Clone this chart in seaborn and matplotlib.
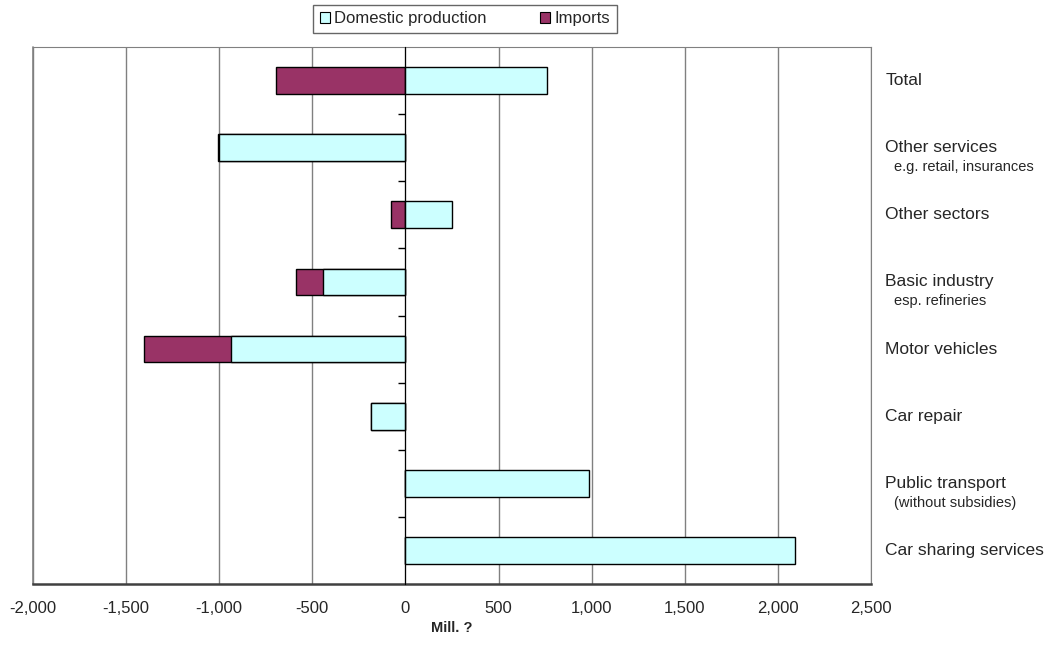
import pandas as pd
import matplotlib.pyplot as plt
import seaborn as sns
from matplotlib.patches import Patch
from matplotlib.ticker import FuncFormatter, FixedLocator

# Data (Mill.)
sectors = ['Total', 'Other services', 'Other sectors', 'Basic industry',
           'Motor vehicles', 'Car repair', 'Public transport', 'Car sharing services']
sublabels = ['', 'e.g. retail, insurances', '', 'esp. refineries',
             '', '', '(without subsidies)', '']
domestic = [760, -1000, 250, -440, -935, -185, 985, 2090]
imports = [-695, -8, -75, -150, -470, 0, 0, 0]

# imports stack on the far side of negative domestic bars
imports_end = [m + (d if d < 0 else 0) for d, m in zip(domestic, imports)]
df = pd.DataFrame({'sector': sectors, 'domestic': domestic, 'imports_end': imports_end})

sns.set_style('white')
plt.rcParams['font.family'] = ['Liberation Sans', 'DejaVu Sans']

fig = plt.figure(figsize=(10.51, 6.46), dpi=100)
ax = fig.add_axes([0.0314, 0.096, 0.7973, 0.8312])

dom_color = '#CCFFFF'
imp_color = '#993366'

sns.barplot(data=df, y='sector', x='imports_end', order=sectors, orient='h',
            color=imp_color, saturation=1, width=0.4, edgecolor='black',
            linewidth=1, ax=ax, zorder=3)
sns.barplot(data=df, y='sector', x='domestic', order=sectors, orient='h',
            color=dom_color, saturation=1, width=0.4, edgecolor='black',
            linewidth=1, ax=ax, zorder=4)

ax.set_xlim(-2000, 2500)
ax.set_ylim(len(sectors) - 0.5, -0.5)
ax.set_xticks(range(-2000, 2501, 500))
ax.xaxis.set_major_formatter(FuncFormatter(lambda v, p: f'{int(v):,}'))
ax.tick_params(axis='x', labelsize=12, length=4, color='#404040', pad=8, direction='out')
ax.grid(axis='x', color='#808080', lw=1, zorder=0)
ax.set_axisbelow(True)

# category axis crosses at zero, ticks between categories
ax.spines['left'].set_position(('data', 0))
ax.spines['left'].set_color('black')
ax.spines['left'].set_zorder(5)
ax.yaxis.set_major_locator(FixedLocator([i - 0.5 for i in range(1, len(sectors))]))
ax.set_yticklabels([])
ax.tick_params(axis='y', length=5, width=1, color='black', direction='out', left=True)
ax.set_ylabel('')

for s in ['top', 'right']:
    ax.spines[s].set_color('#808080')
    ax.spines[s].set_visible(True)
ax.spines['bottom'].set_color('#404040')
ax.spines['bottom'].set_linewidth(1.8)
ax.plot([0, 0], [0, 1], transform=ax.transAxes, color='#808080', lw=1.2, clip_on=False)

ax.set_xlabel('Mill. ?', fontsize=10.5, fontweight='bold', labelpad=4)

# category labels on the right
trans = ax.get_yaxis_transform()
for i, (name, sub) in enumerate(zip(sectors, sublabels)):
    ax.text(1.017, i, name, transform=trans, fontsize=12.5, va='center', ha='left')
    if sub:
        ax.text(1.027, i + 0.29, sub, transform=trans, fontsize=10.5, va='center', ha='left')

handles = [Patch(facecolor=dom_color, edgecolor='black', lw=0.8, label='Domestic production'),
           Patch(facecolor=imp_color, edgecolor='black', lw=0.8, label='Imports')]
leg = fig.legend(handles=handles, loc='upper center', bbox_to_anchor=(0.4424, 0.993), ncol=2,
                 fontsize=12, frameon=True, fancybox=False, handlelength=0.6,
                 handleheight=0.6, handletextpad=0.25, columnspacing=3.2,
                 borderpad=0.4, borderaxespad=0, edgecolor='#404040')
leg.get_frame().set_linewidth(1)

fig.savefig('out.png', dpi=100)
